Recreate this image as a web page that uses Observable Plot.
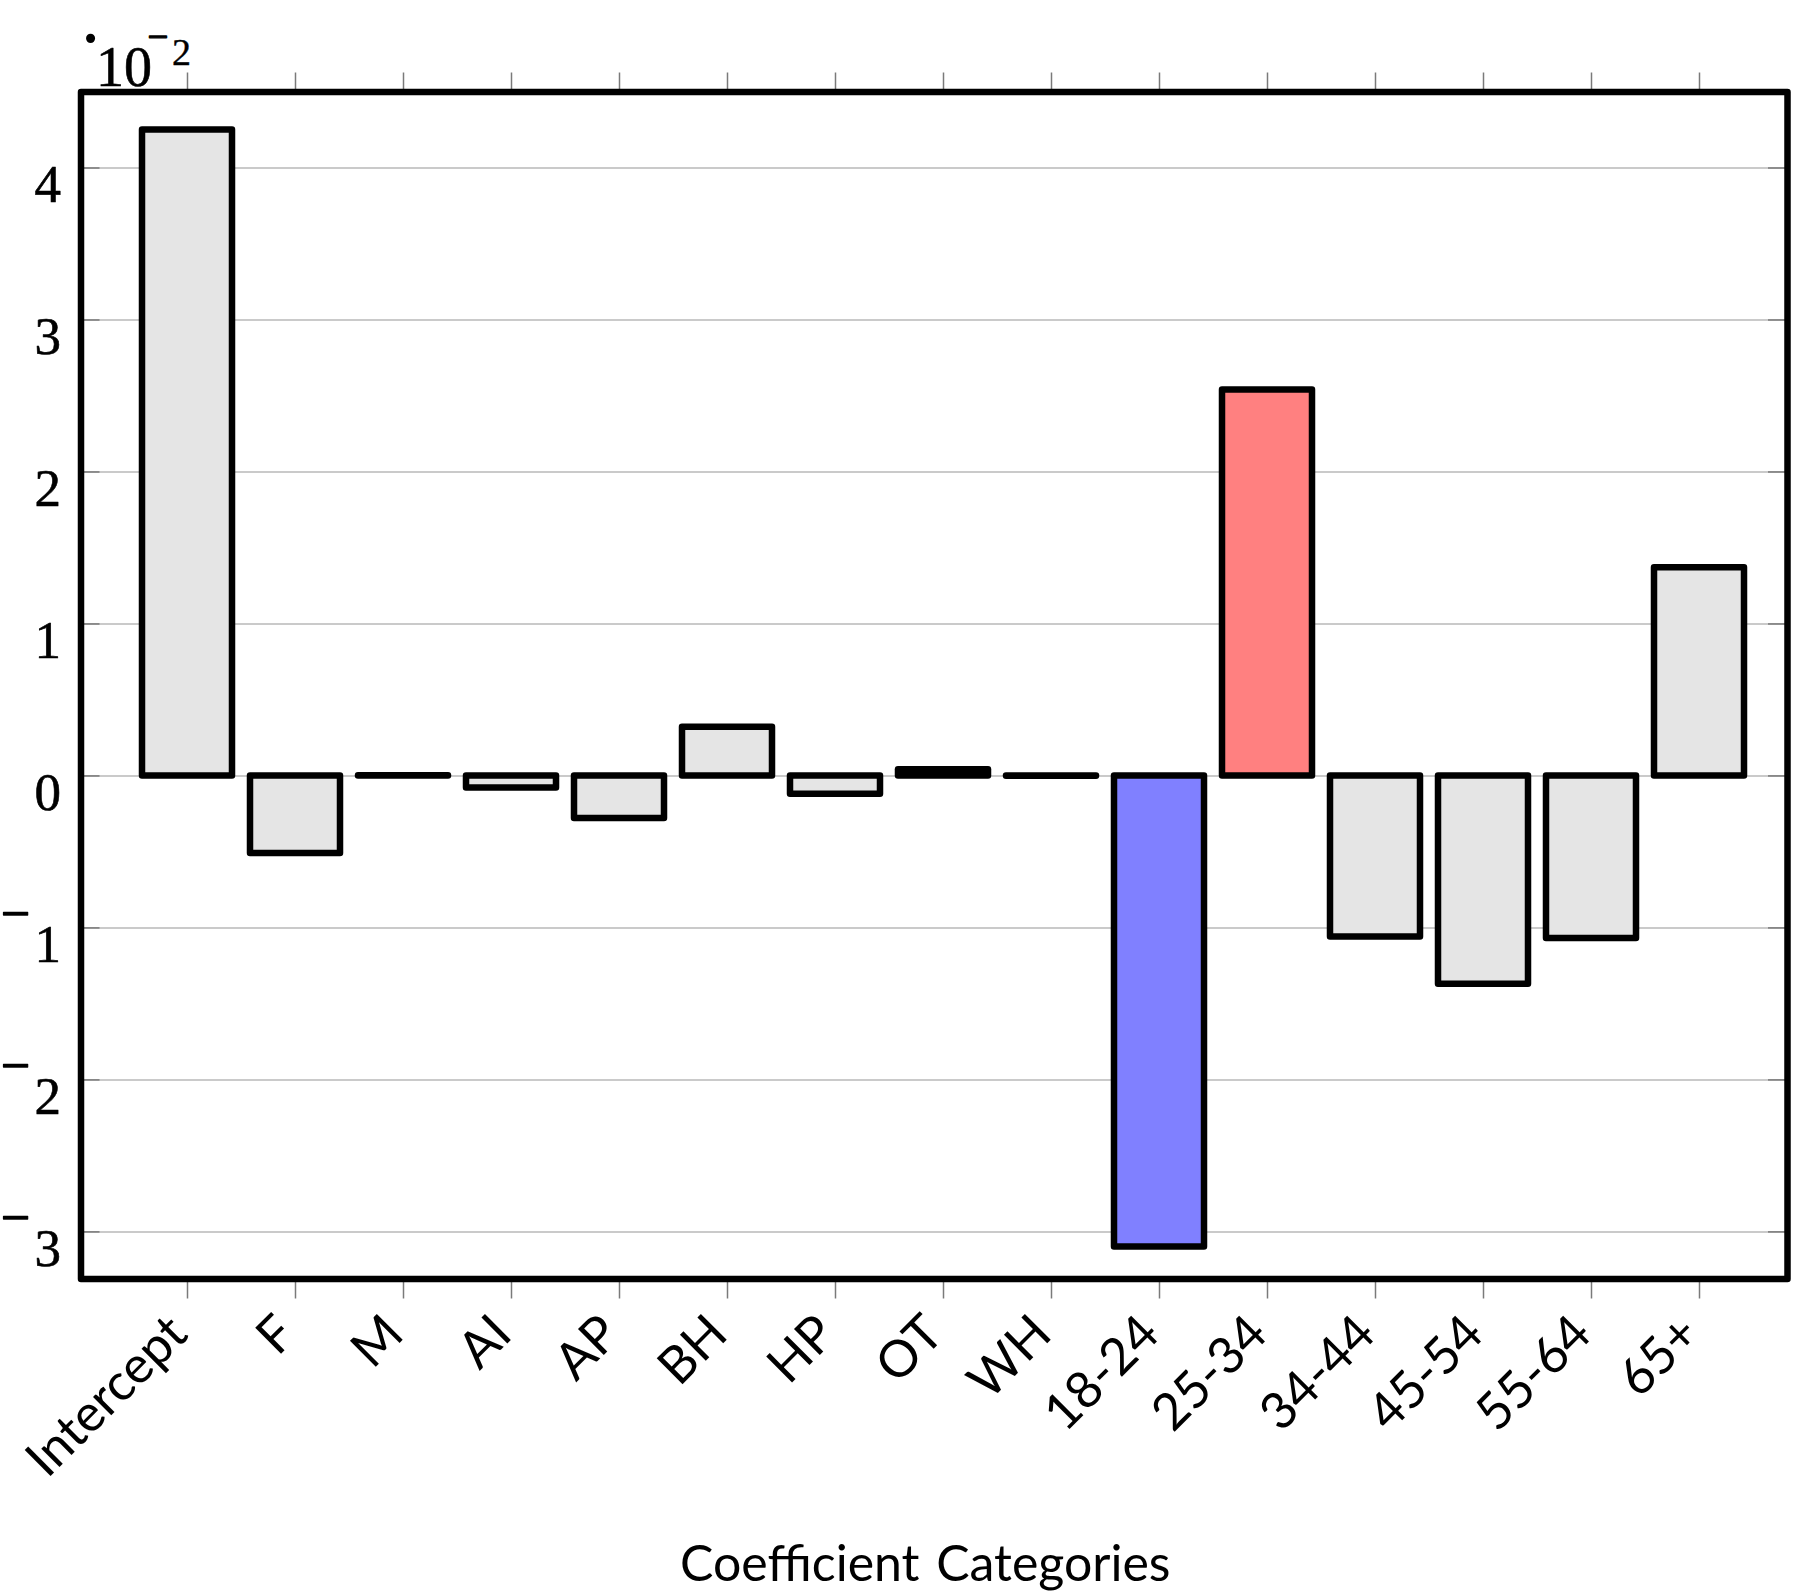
<!DOCTYPE html>
<html>
<head>
<meta charset="utf-8">
<script src="https://cdn.jsdelivr.net/npm/d3@7"></script>
<script src="https://cdn.jsdelivr.net/npm/@observablehq/plot@0.6"></script>
<style>
html, body { margin: 0; padding: 0; background: #ffffff; }
#chart svg { display: block; }
</style>
</head>
<body>
<div id="chart"></div>
<script>
// ---- data ----
const categories = ["Intercept", "F", "M", "AI", "AP", "BH", "HP", "OT", "WH",
                    "18-24", "25-34", "34-44", "45-54", "55-64", "65+"];
const coefficients = [4.25, -0.51, 0.002, -0.08, -0.28, 0.32, -0.12, 0.04, -0.002,
                      -3.10, 2.54, -1.06, -1.37, -1.07, 1.37];
const yTicks = [-3, -2, -1, 0, 1, 2, 3, 4];
const scaleBase = ["10"];
const scaleExponent = ["2"];
const xTitle = ["Coefficient\u2004Categories"];

// ---- styles ----
const W = 1796, H = 1595;
const mL = 80.5, mR = 9, mT = 91.5, mB = 316.5;
const plotW = W - mL - mR;
const barFill = d => d.category === "18-24" ? "#8080ff" : d.category === "25-34" ? "#ff8080" : "#e5e5e5";
const serif = "Liberation Serif";
const sans = "Lato";

const data = categories.map((c, i) => ({category: c, value: coefficients[i]}));

const chart = Plot.plot({
  width: W,
  height: H,
  marginLeft: mL,
  marginRight: mR,
  marginTop: mT,
  marginBottom: mB,
  style: {background: "#ffffff", color: "black"},
  x: {type: "band", domain: categories, range: [138.45, 1747.95], paddingInner: 0.166, paddingOuter: 0, align: 0.5, axis: null},
  y: {domain: [-3.31, 4.5], axis: null},
  marks: [
    // gridlines
    Plot.ruleY(yTicks, {y: d => d, stroke: "#b8b8b8", strokeWidth: 1.5}),
    // inner y ticks (left and right)
    Plot.tickY(yTicks, {y: d => d, stroke: "#7a7a7a", strokeWidth: 1.5, insetRight: plotW - 19}),
    Plot.tickY(yTicks, {y: d => d, stroke: "#7a7a7a", strokeWidth: 1.5, insetLeft: plotW - 19}),
    // x ticks (outside, top and bottom)
    Plot.axisX({anchor: "top", tickSize: 20, tickFormat: () => "", label: null, stroke: "#7a7a7a", strokeWidth: 1.5}),
    Plot.axisX({anchor: "bottom", tickSize: 20, tickFormat: () => "", label: null, stroke: "#7a7a7a", strokeWidth: 1.5}),
    // x tick labels (rotated)
    Plot.axisX({anchor: "bottom", tickSize: 0, tickPadding: 46, tickRotate: -45, label: null,
                fill: "black", dx: -9, fontSize: 51, fontFamily: sans}),
    // bars
    Plot.barY(data, {x: "category", y: "value", fill: barFill, stroke: "black",
                     strokeWidth: 6.5, strokeLinejoin: "round"}),
    // frame
    Plot.frame({stroke: "black", strokeWidth: 6.5, strokeLinejoin: "round"}),
    // y tick labels
    Plot.text(yTicks, {y: d => d, text: d => String(Math.abs(d)), frameAnchor: "left",
                       textAnchor: "end", lineAnchor: "top", dx: -20, dy: -4,
                       fontFamily: serif, fontSize: 53, fill: "black", stroke: "black", strokeWidth: 0.6}),
    Plot.text(yTicks.filter(d => d < 0), {y: d => d, text: () => "\u2212", frameAnchor: "left",
                       textAnchor: "end", lineAnchor: "middle", dx: -51, dy: -14,
                       fontFamily: serif, fontSize: 52, fill: "black", stroke: "black", strokeWidth: 1.2}),
    // scale label  ·10^-2
    Plot.text(["\u00b7"], {text: d => d, frameAnchor: "top-left", textAnchor: "middle", lineAnchor: "middle",
                       dx: 9.5, dy: -53, fontFamily: serif, fontSize: 56, fontWeight: "bold", fill: "black"}),
    Plot.text(scaleBase, {text: d => d, frameAnchor: "top-left", textAnchor: "start", lineAnchor: "middle",
                       dx: 15, dy: -23.5, fontFamily: serif, fontSize: 56, fill: "black", stroke: "black", strokeWidth: 0.6}),
    Plot.text(["\u2212"], {text: d => d, frameAnchor: "top-left", textAnchor: "middle", lineAnchor: "middle",
                       dx: 77, dy: -55, fontFamily: serif, fontSize: 37, fill: "black", stroke: "black", strokeWidth: 1.2}),
    Plot.text(scaleExponent, {text: d => d, frameAnchor: "top-left", textAnchor: "start", lineAnchor: "middle",
                       dx: 91, dy: -39, fontFamily: serif, fontSize: 38, fill: "black", stroke: "black", strokeWidth: 0.4}),
    // x title
    Plot.text(xTitle, {text: d => d, frameAnchor: "bottom", textAnchor: "middle", lineAnchor: "middle",
                       dx: -9, dy: 286, fontFamily: sans, fontSize: 50, fill: "black"})
  ]
});
document.getElementById("chart").appendChild(chart);
</script>
</body>
</html>
